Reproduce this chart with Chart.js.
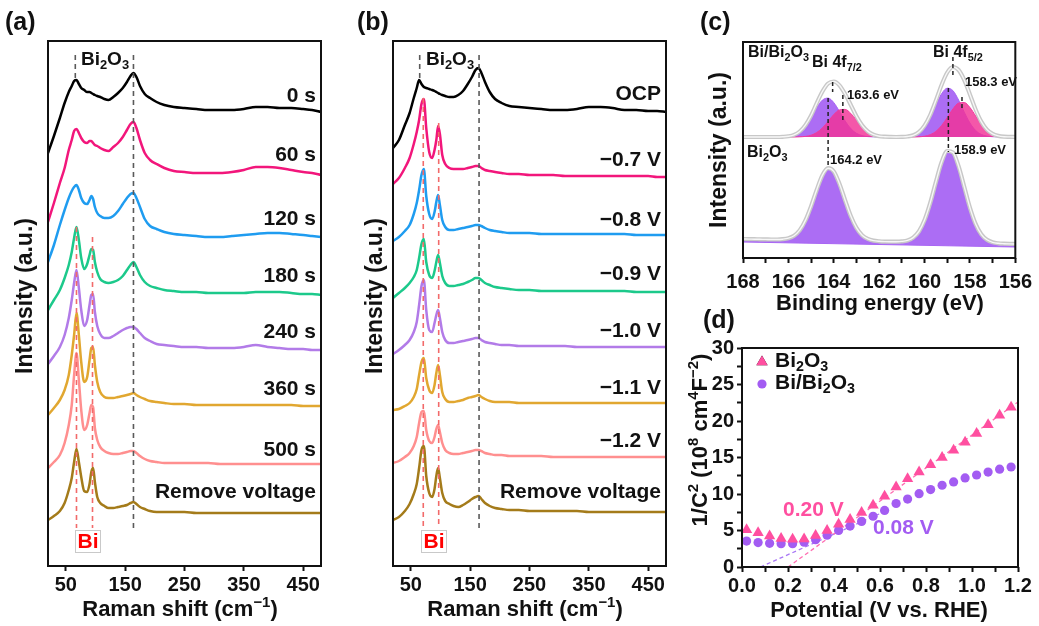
<!DOCTYPE html>
<html><head><meta charset="utf-8">
<script src="https://cdn.jsdelivr.net/npm/chart.js@4.4.1/dist/chart.umd.min.js"></script>
<style>
html,body{margin:0;padding:0;background:#fff;}
#wrap{position:relative;width:1039px;height:626px;overflow:hidden;background:#fff;}
canvas{position:absolute;}
</style></head><body>
<div id="wrap">
<canvas id="ca" width="340" height="626" style="left:0px;top:0px;width:340px;height:626px"></canvas>
<canvas id="cb" width="340" height="626" style="left:345px;top:0px;width:340px;height:626px"></canvas>
<canvas id="cc" width="359" height="320" style="left:680px;top:0px;width:359px;height:320px"></canvas>
<canvas id="cd" width="359" height="326" style="left:680px;top:300px;width:359px;height:326px"></canvas>
</div>
<script>
// ================= DATA =================
// Raman shift grid (cm^-1) shared by panels (a) and (b)
const ramanShift = [20,30,40,48,55,60,64,68,72,76,81,86,90,93,96,99,103,108,115,122,130,138,146,153,159,164,169,175,183,192,203,216,232,250,270,290,310,330,350,370,390,410,430,450,465,480];
const ramanTicks = [50,150,250,350,450];

// (a) time series, stacked intensity (a.u.)
const timeLabels = ['0 s','60 s','120 s','180 s','240 s','360 s','500 s','Remove voltage'];
const a_0s   = [414,431,449,464,475,481,486,487,483,479,477,475,475,474,473,472,471,470,468,467,470,474,479,485,491,494,490,481,473,469,465,462,460,459,458,457,457,457,458,460,460,459,459,458,457,455];
const a_60s  = [345,364,384,399,417,427,436,438,434,429,425,424,426,426,424,422,421,419,417,416,420,424,430,437,443,445,439,427,414,407,403,399,396,395,394,394,394,395,397,400,400,399,397,395,394,392];
const a_120s = [305,322,342,357,369,376,380,382,377,369,364,363,367,371,368,360,354,351,349,349,351,356,363,369,373,374,369,360,348,341,338,335,333,332,331,330,330,331,332,333,334,334,333,332,331,330];
const a_180s = [257,267,277,289,302,315,329,340,327,309,298,303,312,318,317,305,295,288,285,284,285,287,291,297,302,305,300,292,285,281,279,277,276,275,275,274,274,274,274,275,275,275,274,273,273,272];
const a_240s = [203,211,220,232,249,267,284,297,279,257,241,247,262,272,273,255,241,233,229,229,231,234,237,239,240,240,238,234,229,226,223,222,221,220,220,219,219,219,220,222,220,219,218,218,217,217];
const a_360s = [152,159,167,177,192,212,232,254,232,205,185,190,207,219,220,202,185,175,170,169,169,170,171,172,173,174,172,170,168,166,165,164,163,163,162,162,162,162,162,162,162,162,162,161,161,161];
const a_500s = [99,105,112,124,142,162,192,214,187,157,137,142,154,162,160,139,127,120,116,114,113,113,114,115,116,116,114,111,108,106,105,104,104,104,104,104,103,103,103,103,103,103,103,103,103,103];
const a_rem  = [47,51,56,64,77,89,105,118,105,90,76,75,83,95,99,85,70,64,61,59,59,60,61,62,64,65,63,60,58,56,55,55,55,55,54,54,54,54,54,54,54,54,54,54,54,54];

// (b) potential series, stacked intensity (a.u.)
const potentialLabels = ['OCP','\u22120.7 V','\u22120.8 V','\u22120.9 V','\u22121.0 V','\u22121.1 V','\u22121.2 V','Remove voltage'];
const b_ocp = [419,427,442,454,469,479,487,483,480,479,478,477,476,475,474,473,472,471,470,470,472,476,483,490,497,499,494,485,475,468,464,461,460,459,458,457,457,458,460,460,459,457,457,456,456,455];
const b_07  = [383,389,399,409,423,435,447,463,468,439,415,409,417,427,441,433,412,403,399,398,398,398,399,400,401,401,399,397,396,395,394,393,393,392,392,392,391,391,391,391,391,391,391,391,390,390];
const b_08  = [326,330,336,342,353,364,377,392,398,371,353,348,355,365,372,362,347,340,337,337,338,339,340,341,342,342,341,339,337,336,335,334,334,334,333,333,333,333,333,333,333,333,332,332,332,332];
const b_09  = [269,274,279,284,290,297,309,323,328,305,292,289,296,305,312,304,291,284,281,281,282,283,285,287,289,289,287,284,282,280,279,278,277,277,276,276,276,276,276,276,276,276,275,275,275,275];
const b_10  = [213,217,222,227,235,245,262,281,287,257,237,235,244,252,257,249,235,227,224,224,225,226,227,228,229,229,227,225,224,223,222,222,221,221,221,221,221,220,220,220,220,220,220,220,220,220];
const b_11  = [157,158,161,164,170,178,192,205,209,189,177,174,182,194,202,192,175,168,165,165,166,167,169,170,171,172,170,168,166,165,165,165,164,164,164,164,164,164,164,164,164,164,164,164,164,164];
const b_12  = [104,106,110,114,121,130,144,155,156,137,126,124,130,138,142,135,124,117,114,113,113,114,115,116,117,117,116,114,113,112,112,111,111,111,111,110,110,110,110,110,110,110,110,110,110,110];
const b_rem = [47,50,56,63,73,83,99,117,121,91,74,70,78,91,99,89,74,66,63,61,60,62,65,68,70,71,68,64,61,59,58,57,57,56,56,56,56,56,55,55,55,55,55,55,55,55];

// guide lines [shift, top, bottom]
const a_oxideGuides = [[66,512,487],[164,512,39]];
const a_biGuides    = [[68,340,39],[95,330,39]];
const b_oxideGuides = [[65,512,487],[165,512,39]];
const b_biGuides    = [[71,469,39],[97,444,39]];

// (c) XPS Bi 4f
const bindingEnergy = [168,167.75,167.5,167.25,167,166.75,166.5,166.25,166,165.75,165.5,165.25,165,164.75,164.5,164.25,164,163.75,163.5,163.25,163,162.75,162.5,162.25,162,161.75,161.5,161.25,161,160.75,160.5,160.25,160,159.75,159.5,159.25,159,158.75,158.5,158.25,158,157.75,157.5,157.25,157,156.75,156.5,156.25,156];
const xpsTicks = [168,167,166,165,164,163,162,161,160,159,158,157,156];
const topBaseline = 121;
const topEnvelope = [121,121,121,121,121,121,121,121.2,121.7,123.1,126.5,132.8,142.5,154.9,166.5,174.5,176.5,172.7,164.0,153.0,141.7,132.7,126.6,123.3,121.8,121.3,121.1,121,121.1,121.5,122.7,125.9,132.4,143.0,157.5,173.0,185.5,191.0,188.0,178.0,163.5,148.5,136.4,128.4,124.1,122.1,121.3,121.1,121.0];
const topOxideComp = [121,121,121,121,121,121,121,121.2,121.7,123.1,126.3,132.2,140.7,150.4,157.9,159.9,155.4,146.6,137.0,129.4,124.7,122.4,121.4,121.1,121,121,121,121,121.1,121.5,122.7,125.7,131.6,141.1,153.2,164.2,169.8,167.4,158.0,145.8,135.0,127.6,123.6,121.9,121.3,121.1,121,121,121];
const topMetalComp = [121,121,121,121,121,121,121,121,121,121,121.2,121.6,122.8,125.5,130.1,136.6,143.4,148.1,148.6,144.6,138.0,131.3,126.2,123.2,121.8,121.3,121.1,121,121,121,121,121.2,121.8,123.3,126.6,132.4,140.5,149.0,154.9,155.5,150.5,142.2,133.8,127.5,123.8,122.0,121.3,121.1,121.0];
const bottomEnvelope = [19.0,18.9,18.8,18.7,18.6,18.5,18.5,18.8,19.8,22.3,27.8,37.6,51.8,68.3,82.8,89.8,86.6,74.3,57.8,42.0,30.1,22.8,19.1,17.4,16.7,16.4,16.3,16.3,16.6,17.6,20.4,26.5,37.9,55.1,76.1,95.7,107.0,105.6,91.8,71.2,50.4,34.1,23.7,18.2,15.7,14.7,14.3,14.1,14.0];
const bottomBgX = [168,156];
const bottomBgY = [16,11];
// marker lines [eV, from, to]
const xpsMarkers = [[164.05,176,166],[164.25,160,90],[163.6,163,138],[158.75,201,183],[158.95,170,106],[158.35,161,150]];

// (d) Mott-Schottky
const potential = [0.02,0.07,0.12,0.17,0.22,0.27,0.32,0.37,0.42,0.47,0.52,0.57,0.62,0.67,0.72,0.77,0.82,0.87,0.92,0.97,1.02,1.07,1.12,1.17];
const msBi2O3   = [5.1,4.7,4.25,3.9,3.8,3.85,4.3,5.0,5.85,6.5,7.45,8.45,9.7,10.95,12.1,13.0,14.0,15.0,16.0,17.1,18.3,19.5,20.8,21.9];
const msBiBi2O3 = [3.55,3.35,3.25,3.2,3.2,3.4,3.75,4.35,5.0,5.6,6.25,6.95,7.75,8.7,9.3,10.05,10.6,11.2,11.65,12.2,12.6,13.0,13.4,13.7];
const fitBi2O3X = [0.20,1.20], fitBi2O3Y = [0,22.6];
const fitBiX = [0.08,0.62],    fitBiY = [0,7.6];
const msXTicks = [0,0.1,0.2,0.3,0.4,0.5,0.6,0.7,0.8,0.9,1.0,1.1,1.2];
const msYTicks = [0,2.5,5,7.5,10,12.5,15,17.5,20,22.5,25,27.5,30];

// ================= STYLE / HELPERS =================
const FONT = '"Liberation Sans", Arial, Helvetica, sans-serif';
const F = s => 'bold ' + s + 'px ' + FONT;
const INK = '#111';
const timeColors = ['#000000','#f2167b','#1f9cf0','#1cc98b','#b27be8','#e1a730','#ff8f8f','#a47b1a'];
const PURPLE = '#a865f3', PINK = '#f2399b';
const MS_PINK = '#ff4fa0', MS_PURPLE = '#a35cf2';

Chart.defaults.font.family = FONT;

function rich(ctx, parts, x, y, size, color, align, rot) {
  const small = size * 0.68;
  let w = 0;
  const ws = parts.map(p => { ctx.font = F(p[1] ? small : size); const m = ctx.measureText(p[0]).width; w += m; return m; });
  ctx.save();
  ctx.translate(x, y);
  if (rot) ctx.rotate(rot);
  let cx = align === 'center' ? -w / 2 : align === 'right' ? -w : 0;
  ctx.fillStyle = color; ctx.textBaseline = 'middle'; ctx.textAlign = 'left';
  parts.forEach((p, i) => {
    ctx.font = F(p[1] ? small : size);
    const dy = p[1] === -1 ? size * 0.3 : p[1] === 1 ? -size * 0.32 : 0;
    ctx.fillText(p[0], cx, dy);
    cx += ws[i];
  });
  ctx.restore();
}
const BI2O3 = [['Bi',0],['2',-1],['O',0],['3',-1]];

const drawFns = {};
const deco = {
  id: 'deco',
  afterDraw(chart) {
    const ctx = chart.ctx, a = chart.chartArea;
    ctx.save();
    ctx.lineWidth = 2; ctx.strokeStyle = INK;
    ctx.strokeRect(a.left, a.top, a.right - a.left, a.bottom - a.top);
    ctx.restore();
    const d = drawFns[chart.canvas.id];
    if (d) {
      ctx.save();
      const el = chart.canvas;
      ctx.translate(-parseFloat(el.style.left), -parseFloat(el.style.top));
      d(ctx, chart);
      ctx.restore();
    }
  }
};

const tickFont = {family: FONT, size: 20, weight: 'bold'};
function xAxis(min, max, ticks, height, cb, extra, pad) {
  return Object.assign({
    type: 'linear', min, max,
    afterBuildTicks: s => { s.ticks = ticks.map(v => ({value: v})); },
    afterFit: s => { s.height = height; },
    grid: {display: true, drawOnChartArea: false, drawTicks: true, tickLength: 5, tickWidth: 2, tickColor: INK},
    border: {display: false},
    ticks: {font: tickFont, color: INK, padding: pad === undefined ? 2 : pad, maxRotation: 0, autoSkip: false, callback: cb}
  }, extra || {});
}
function hiddenY(min, max, width) {
  return {min, max, afterFit: s => { s.width = width; }, grid: {display: false}, border: {display: false}, ticks: {display: false}};
}
function guideSet(g, color) {
  return {data: [{x: g[0], y: g[1]}, {x: g[0], y: g[2]}], showLine: true, borderColor: color, borderDash: [5, 4],
          borderWidth: 1.6, pointRadius: 0, order: 0};
}

// ================= RAMAN PANELS =================
function ramanChart(id, series, oxideGuides, biGuides) {
  const datasets = [];
  oxideGuides.forEach(g => datasets.push(guideSet(g, '#5a5a5a')));
  biGuides.forEach(g => datasets.push(guideSet(g, '#f26a6a')));
  series.forEach((s, i) => datasets.push({
    data: ramanShift.map((x, j) => ({x, y: s[j]})), showLine: true, borderColor: timeColors[i],
    borderWidth: 2.5, pointRadius: 0, cubicInterpolationMode: 'monotone', order: 1 + i
  }));
  return new Chart(document.getElementById(id), {
    type: 'scatter',
    data: {datasets},
    options: {
      responsive: false, animation: false, events: [], devicePixelRatio: 1,
      layout: {padding: {left: 0, top: 41, right: 19, bottom: 0}},
      plugins: {legend: {display: false}, tooltip: {enabled: false}},
      scales: {x: xAxis(20, 480, ramanTicks, 60, v => String(v)), y: hiddenY(1, 526, 48)}
    },
    plugins: [deco]
  });
}

function ramanText(labels, ox, labelY, biBox) {
  return ctx => {
    rich(ctx, [['(' + (ox ? 'b' : 'a') + ')', 0]], ox + (ox ? 12 : 5), 23, 25, INK, 'left');
    rich(ctx, BI2O3, ox + 105, 60, 19, INK, 'center');
    labels.forEach((t, i) => rich(ctx, [[t, 0]], ox + 316, labelY[i], 21, INK, 'right'));
    ctx.strokeStyle = '#c9c9c9'; ctx.lineWidth = 1;
    ctx.strokeRect(biBox[0] + 0.5, 530.5, 25, 22);
    rich(ctx, [['Bi', 0]], biBox[0] + 13, 542, 21, '#ff0000', 'center');
    rich(ctx, [['Intensity (a.u.)', 0]], ox + 26 + (ox ? 5 : 0), 296, 23, INK, 'center', -Math.PI / 2);
    rich(ctx, [['Raman shift (cm', 0], ['\u22121', 1], [')', 0]], ox + 180, 610, 22, INK, 'center');
  };
}
drawFns.ca = ramanText(timeLabels, 0, [96, 155, 219, 276, 332, 389, 450, 492], [75]);
drawFns.cb = ramanText(potentialLabels, 345, [94, 160, 220, 274, 331, 388, 441, 492], [421]);

ramanChart('ca', [a_0s, a_60s, a_120s, a_180s, a_240s, a_360s, a_500s, a_rem], a_oxideGuides, a_biGuides);
ramanChart('cb', [b_ocp, b_07, b_08, b_09, b_10, b_11, b_12, b_rem], b_oxideGuides, b_biGuides);

// ================= XPS PANEL (c) =================
(function () {
  const pts = arr => bindingEnergy.map((x, i) => ({x, y: arr[i]}));
  const datasets = [];
  xpsMarkers.forEach(m => datasets.push({data: [{x: m[0], y: m[1]}, {x: m[0], y: m[2]}], showLine: true,
    borderColor: '#222', borderDash: [4, 3], borderWidth: 1.5, pointRadius: 0, order: 0}));
  [topEnvelope, bottomEnvelope].forEach(e => {
    datasets.push({data: pts(e), showLine: true, borderColor: '#f7f7f7', borderWidth: 1.4, pointRadius: 0, cubicInterpolationMode: 'monotone', order: 1});
    datasets.push({data: pts(e), showLine: true, borderColor: '#c8c8c8', borderWidth: 4.2, pointRadius: 0, cubicInterpolationMode: 'monotone', order: 2});
  });
  datasets.push({data: pts(topMetalComp), showLine: true, borderColor: PINK, backgroundColor: 'rgba(242,50,150,0.82)',
    borderWidth: 1, pointRadius: 0, cubicInterpolationMode: 'monotone', fill: {value: topBaseline}, order: 3});
  datasets.push({data: pts(topOxideComp), showLine: true, borderColor: PURPLE, backgroundColor: 'rgba(168,101,243,0.95)',
    borderWidth: 1, pointRadius: 0, cubicInterpolationMode: 'monotone', fill: {value: topBaseline}, order: 4});
  const bgIndex = datasets.length + 1;
  datasets.push({data: pts(bottomEnvelope), showLine: true, borderColor: PURPLE, backgroundColor: 'rgba(168,101,243,0.95)',
    borderWidth: 1, pointRadius: 0, cubicInterpolationMode: 'monotone', fill: bgIndex, order: 4});
  datasets.push({data: bottomBgX.map((x, i) => ({x, y: bottomBgY[i]})), showLine: true, borderColor: PURPLE,
    borderWidth: 1, pointRadius: 0, order: 5});

  drawFns.cc = ctx => {
    rich(ctx, [['(c)', 0]], 700, 23, 25, INK, 'left');
    rich(ctx, [['Bi/Bi', 0], ['2', -1], ['O', 0], ['3', -1]], 748, 53, 16, INK, 'left');
    rich(ctx, [['Bi 4f', 0], ['7/2', -1]], 812, 63, 16, INK, 'left');
    rich(ctx, [['163.6 eV', 0]], 847, 95, 13, INK, 'left');
    rich(ctx, [['Bi 4f', 0], ['5/2', -1]], 933, 53, 16, INK, 'left');
    rich(ctx, [['158.3 eV', 0]], 965, 82, 13, INK, 'left');
    rich(ctx, BI2O3, 747, 153, 16, INK, 'left');
    rich(ctx, [['164.2 eV', 0]], 830, 160, 13, INK, 'left');
    rich(ctx, [['158.9 eV', 0]], 954, 150, 13, INK, 'left');
    rich(ctx, [['Intensity (a.u.)', 0]], 720, 150, 23, INK, 'center', -Math.PI / 2);
    rich(ctx, [['Binding energy (eV)', 0]], 880, 304, 22, INK, 'center');
  };

  new Chart(document.getElementById('cc'), {
    type: 'scatter',
    data: {datasets},
    options: {
      responsive: false, animation: false, events: [], devicePixelRatio: 1,
      layout: {padding: {left: 0, top: 42, right: 22, bottom: 0}},
      plugins: {legend: {display: false}, tooltip: {enabled: false}},
      scales: {
        x: xAxis(156, 168, xpsTicks, 62, v => (v % 2 === 0 ? String(v) : ''), {reverse: true}, 7),
        y: hiddenY(0, 216, 63)
      }
    },
    plugins: [deco]
  });
})();

// ================= MOTT-SCHOTTKY PANEL (d) =================
(function () {
  const datasets = [
    {data: potential.map((x, i) => ({x, y: msBi2O3[i]})), pointStyle: 'triangle', pointRadius: 6.5,
     backgroundColor: MS_PINK, borderColor: MS_PINK, borderWidth: 0, order: 0},
    {data: potential.map((x, i) => ({x, y: msBiBi2O3[i]})), pointStyle: 'circle', pointRadius: 4.6,
     backgroundColor: MS_PURPLE, borderColor: MS_PURPLE, borderWidth: 0, order: 1},
    {data: fitBi2O3X.map((x, i) => ({x, y: fitBi2O3Y[i]})), showLine: true, borderColor: '#ff6cb0', borderDash: [4, 3],
     borderWidth: 1.3, pointRadius: 0, order: 2},
    {data: fitBiX.map((x, i) => ({x, y: fitBiY[i]})), showLine: true, borderColor: '#a877f5', borderDash: [4, 3],
     borderWidth: 1.3, pointRadius: 0, order: 3}
  ];
  drawFns.cd = ctx => {
    rich(ctx, [['(d)', 0]], 703, 321, 25, INK, 'left');
    Chart.helpers.drawPoint(ctx, {pointStyle: 'triangle', radius: 6.5, borderWidth: 0}, 762, 362);
    ctx.fillStyle = MS_PINK; ctx.fill();
    ctx.beginPath(); ctx.arc(762, 384, 4.6, 0, Math.PI * 2); ctx.fillStyle = MS_PURPLE; ctx.fill();
    rich(ctx, BI2O3, 775, 361, 21, INK, 'left');
    rich(ctx, [['Bi/Bi', 0], ['2', -1], ['O', 0], ['3', -1]], 775, 383, 21, INK, 'left');
    rich(ctx, [['0.20 V', 0]], 783, 510, 21, MS_PINK, 'left');
    rich(ctx, [['0.08 V', 0]], 873, 528, 21, MS_PURPLE, 'left');
    rich(ctx, [['1/C', 0], ['2', 1], [' (10', 0], ['8', 1], [' cm', 0], ['4', 1], ['F', 0], ['\u22122', 1], [')', 0]],
         701, 440, 22, INK, 'center', -Math.PI / 2);
    rich(ctx, [['Potential (V vs. RHE)', 0]], 879, 611, 22, INK, 'center');
  };
  new Chart(document.getElementById('cd'), {
    type: 'scatter',
    data: {datasets},
    options: {
      responsive: false, animation: false, events: [], devicePixelRatio: 1,
      layout: {padding: {left: 0, top: 48, right: 21, bottom: 0}},
      plugins: {legend: {display: false}, tooltip: {enabled: false}},
      scales: {
        x: xAxis(0, 1.2, msXTicks, 59, (v, i) => (i % 2 ? '' : Number(v).toFixed(1))),
        y: {
          min: 0, max: 30,
          afterBuildTicks: s => { s.ticks = msYTicks.map(v => ({value: v})); },
          afterFit: s => { s.width = 62; },
          grid: {display: true, drawOnChartArea: false, drawTicks: true, tickLength: 5, tickWidth: 2, tickColor: INK},
          border: {display: false},
          ticks: {font: tickFont, color: INK, padding: 3, autoSkip: false, callback: v => (v % 5 === 0 ? String(v) : '')}
        }
      }
    },
    plugins: [deco]
  });
})();
</script>
</body></html>
